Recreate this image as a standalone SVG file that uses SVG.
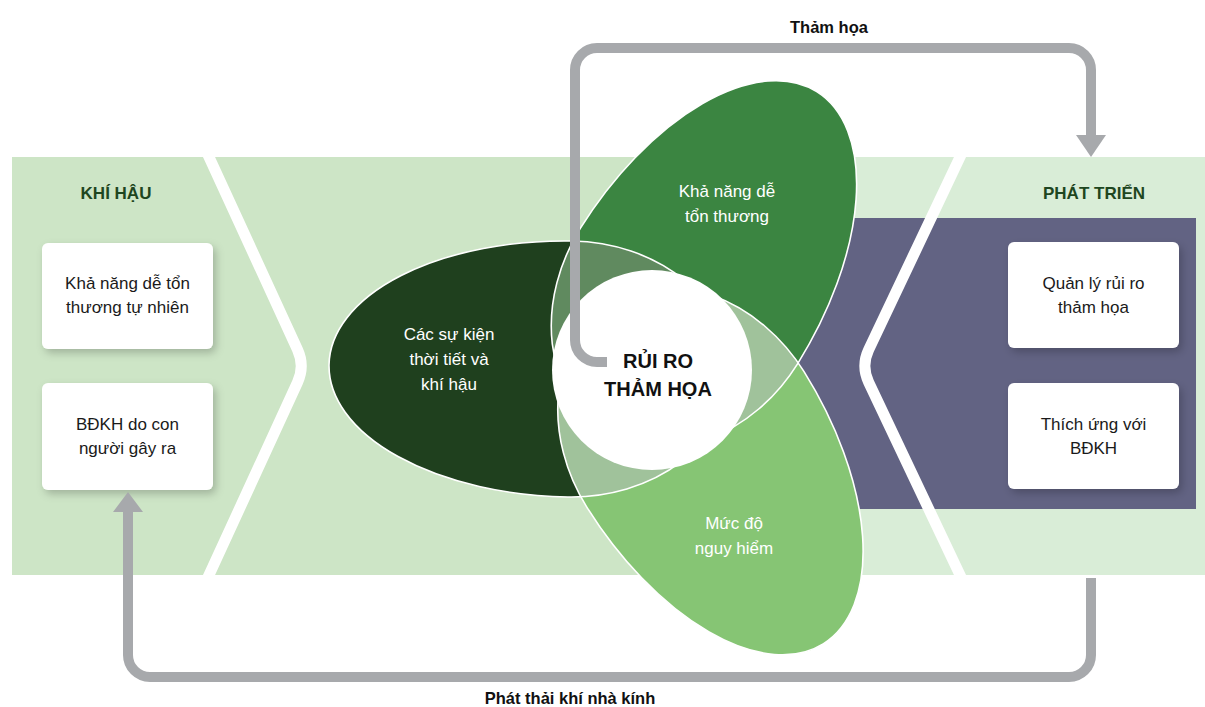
<svg xmlns="http://www.w3.org/2000/svg" xmlns:xlink="http://www.w3.org/1999/xlink" width="1205" height="707" viewBox="0 0 1205 707">
<style>
  .box { fill:#ffffff; filter:url(#sh); }
  .bt { font-family:"Liberation Sans", Arial, sans-serif; font-size:17px; fill:#1a1a1a; text-anchor:middle; }
  .hd { font-family:"Liberation Sans", Arial, sans-serif; font-size:17px; font-weight:bold; fill:#1e4620; text-anchor:middle; }
  .pt { font-family:"Liberation Sans", Arial, sans-serif; font-size:17px; fill:#ffffff; text-anchor:middle; }
  .ct { font-family:"Liberation Sans", Arial, sans-serif; font-size:20px; font-weight:bold; fill:#111111; text-anchor:middle; }
  .lb { font-family:"Liberation Sans", Arial, sans-serif; font-size:16.5px; font-weight:bold; fill:#111111; text-anchor:middle; }
  .chev { fill:none; stroke:#ffffff; stroke-width:11; stroke-linejoin:round; }
  .conn { fill:none; stroke:#a7a9ac; stroke-width:10; }
  .head { fill:#a7a9ac; }
  .outl { fill:none; stroke:#ffffff; stroke-width:1.6; }
</style>
<defs>
  <filter id="sh" x="-20%" y="-20%" width="150%" height="160%">
    <feDropShadow dx="3" dy="4" stdDeviation="4" flood-color="#000" flood-opacity="0.22"/>
  </filter>
  <path id="pDark" transform="translate(570,369) rotate(181)" d="M 241 0 A 241 128 0 0 1 0 128 A 160 128 0 0 1 -160 0 A 160 128 0 0 1 0 -128 A 241 128 0 0 1 241 0 Z"/>
  <path id="pGreen" transform="translate(689,296) rotate(-58)" d="M 241 0 A 241 128 0 0 1 0 128 A 160 128 0 0 1 -160 0 A 160 128 0 0 1 0 -128 A 241 128 0 0 1 241 0 Z"/>
  <path id="pLight" transform="translate(695.5,439.5) rotate(58)" d="M 241 0 A 241 128 0 0 1 0 128 A 160 128 0 0 1 -160 0 A 160 128 0 0 1 0 -128 A 241 128 0 0 1 241 0 Z"/>
  <clipPath id="cDark"><use xlink:href="#pDark"/></clipPath>
  <clipPath id="cGreen"><use xlink:href="#pGreen"/></clipPath>
</defs>

<g id="background">
  <rect x="12" y="157" width="760" height="418" fill="#cde5c6"/>
  <rect x="760" y="157" width="445" height="418" fill="#d9edd7"/>
  <rect x="760" y="218" width="436" height="291" fill="#626383"/>
  <path class="chev" d="M 203.5 145 L 297.5 349.6 Q 305 366 297.5 382.4 L 203.5 587"/>
  <path class="chev" d="M 965.7 145 L 868.7 349.7 Q 861 366 868.7 382.3 L 965.7 587"/>
</g>

<g id="khi-hau">
  <text class="hd" x="116" y="199">KHÍ HẬU</text>
</g>
<g id="box-kha-nang-tu-nhien">
  <rect class="box" x="42" y="243" width="171" height="106" rx="6"/>
  <text class="bt" x="127.5" y="289">Khả năng dễ tổn</text>
  <text class="bt" x="127.5" y="313">thương tự nhiên</text>
</g>
<g id="box-bdkh-con-nguoi">
  <rect class="box" x="42" y="383" width="171" height="107" rx="6"/>
  <text class="bt" x="127.5" y="430">BĐKH do con</text>
  <text class="bt" x="127.5" y="454">người gây ra</text>
</g>

<g id="phat-trien">
  <text class="hd" x="1094" y="199">PHÁT TRIỂN</text>
</g>
<g id="box-quan-ly">
  <rect class="box" x="1008" y="242" width="171" height="106" rx="6"/>
  <text class="bt" x="1093.5" y="289">Quản lý rủi ro</text>
  <text class="bt" x="1093.5" y="313">thảm họa</text>
</g>
<g id="box-thich-ung">
  <rect class="box" x="1008" y="383" width="171" height="106" rx="6"/>
  <text class="bt" x="1093.5" y="430">Thích ứng với</text>
  <text class="bt" x="1093.5" y="454">BĐKH</text>
</g>

<g id="petal-weather">
  <use xlink:href="#pDark" fill="#1f401e"/>
</g>
<g id="petal-vulnerability">
  <use xlink:href="#pGreen" fill="#3b8541"/>
</g>
<g id="petal-hazard">
  <use xlink:href="#pLight" fill="#86c574"/>
</g>
<g id="overlaps">
  <use xlink:href="#pGreen" fill="#608a5f" clip-path="url(#cDark)"/>
  <use xlink:href="#pLight" fill="#a0c29b" clip-path="url(#cDark)"/>
  <use xlink:href="#pLight" fill="#a0c29b" clip-path="url(#cGreen)"/>
  <use xlink:href="#pDark" class="outl"/>
  <use xlink:href="#pGreen" class="outl"/>
  <use xlink:href="#pLight" class="outl"/>
</g>
<g id="center-risk">
  <circle cx="652" cy="370" r="100" fill="#ffffff"/>
</g>

<g id="connectors">
  <path class="conn" d="M 607 362 H 597 A 22 22 0 0 1 575 340 V 70 A 22 22 0 0 1 597 48 H 1069 A 22 22 0 0 1 1091 70 V 137"/>
  <polygon class="head" points="1076,135 1106,135 1091,157"/>
  <path class="conn" d="M 1091 578 V 655 A 22 22 0 0 1 1069 677 H 150 A 22 22 0 0 1 128 655 V 510"/>
  <polygon class="head" points="113,512 143,512 128,492"/>
  <text class="lb" x="829" y="33">Thảm họa</text>
  <text class="lb" x="570" y="704">Phát thải khí nhà kính</text>
</g>

<g id="labels">
  <text class="pt" x="449" y="340">Các sự kiện</text>
  <text class="pt" x="449" y="365">thời tiết và</text>
  <text class="pt" x="449" y="390">khí hậu</text>
  <text class="pt" x="727" y="197">Khả năng dễ</text>
  <text class="pt" x="727" y="222">tổn thương</text>
  <text class="pt" x="734" y="529">Mức độ</text>
  <text class="pt" x="734" y="554">nguy hiểm</text>
  <text class="ct" x="658" y="368">RỦI RO</text>
  <text class="ct" x="658" y="396">THẢM HỌA</text>
</g>
</svg>
